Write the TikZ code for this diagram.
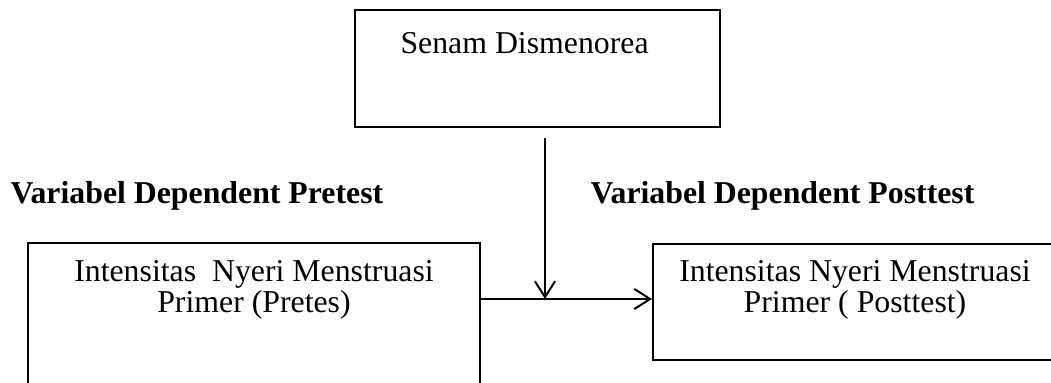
\documentclass[tikz,border=0pt]{standalone}
\usepackage{fontspec}
\setmainfont{Liberation Serif}
\usetikzlibrary{arrows.meta}

\tikzset{
    box/.style={draw, line width=0.75pt, inner sep=0pt},
    boxtext/.style={align=center, inner sep=0pt, font=\fontsize{12}{12}\selectfont},
    heading/.style={anchor=base west, inner sep=0pt, font=\fontsize{12}{14}\selectfont\bfseries},
    flow/.style={line width=0.75pt, -{Straight Barb[length=6pt, width=7.6pt, line width=0.75pt]}}
}

\begin{document}
\begin{tikzpicture}[x=0.3774pt, y=-0.3774pt]
    \useasboundingbox (0, 0) rectangle (1051, 383);
    \clip (0, 0) rectangle (1051, 383);

    % boxes
    \node[box, minimum width=365*0.3774pt, minimum height=117*0.3774pt] (senam) at (537.5, 68.5) {};
    \node[box, minimum width=452*0.3774pt, minimum height=177*0.3774pt] (pretest) at (254, 331.5) {};
    \node[box, minimum width=404*0.3774pt, minimum height=116*0.3774pt] (posttest) at (855, 302) {};

    % texts
    \node[anchor=base west, inner sep=0pt, font=\fontsize{12}{14}\selectfont] (senamtext) at (400, 54) {Senam Dismenorea};
    \node[heading] (prehead) at (10, 204) {Variabel Dependent Pretest};
    \node[heading] (posthead) at (590, 204) {Variabel Dependent Posttest};
    \node[boxtext, anchor=base] (pretext) at (254, 313) {Intensitas\ \ Nyeri Menstruasi\\Primer (Pretes)};
    \node[boxtext, anchor=base] (posttext) at (855, 313) {Intensitas Nyeri Menstruasi\\Primer ( Posttest)};

    % arrows
    \coordinate (drop) at (545, 138);
    \coordinate (meet) at (545, 299);
    \draw[flow] (drop) -- (meet);
    \draw[flow] (pretest.east |- meet) -- (posttest.west |- meet);
\end{tikzpicture}
\end{document}
